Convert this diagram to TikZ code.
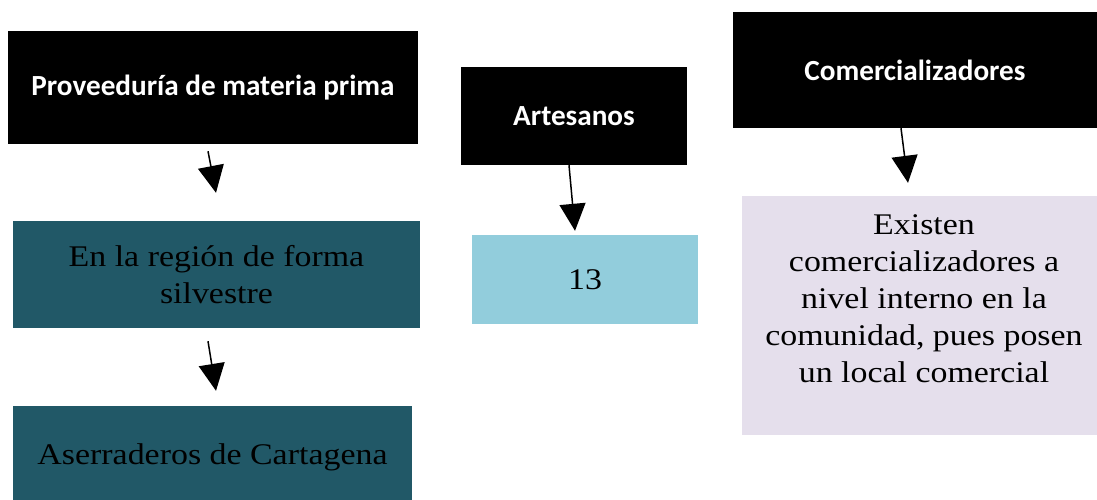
\documentclass[tikz,border=0pt]{standalone}
\usepackage{fontspec}
\usetikzlibrary{arrows.meta,calc}
\newfontfamily\boxsans{Carlito}
\newfontfamily\boxserif{Liberation Serif}[FakeStretch=1.13]
\definecolor{teal50}{HTML}{215867}
\definecolor{lightblue}{HTML}{92CDDC}
\definecolor{lavender}{HTML}{E5DFEC}
\tikzset{
  headbox/.style={fill=black, draw=none, text=white, inner sep=0pt,
    font=\boxsans\bfseries\fontsize{29.2}{34}\selectfont},
  bodybox/.style={draw=none, inner sep=0pt, text=black, align=center,
    font=\boxserif\fontsize{30}{36.5}\selectfont},
  bodytext/.style={inner sep=0pt, text=black, align=center,
    font=\boxserif\fontsize{30}{37}\selectfont},
  conn/.style={line width=1.5pt, -{Triangle[length=27pt,width=26pt]}}
}
\begin{document}
\begin{tikzpicture}[x=1pt,y=-1pt]
\useasboundingbox (0,0) rectangle (1097,499);
% left column
\node[headbox, minimum width=410pt, minimum height=113pt] (prov) at (213,87.5) {Proveeduría de materia prima};
\node[bodybox, fill=teal50, minimum width=407pt, minimum height=107pt] (reg) at (216.5,274.5) {En la región de forma\\silvestre};
\node[bodybox, fill=teal50, minimum width=399pt, minimum height=102pt] (aser) at (212.5,457) {Aserraderos de Cartagena};
% middle column
\node[headbox, minimum width=226pt, minimum height=98pt] (art) at (574,116) {Artesanos};
\node[bodybox, fill=lightblue, minimum width=226pt, minimum height=89pt] (num) at (585,279.5) {13};
% right column
\node[headbox, minimum width=364pt, minimum height=116pt] (com) at (915,70) {Comercializadores};
\node[fill=lavender, draw=none, inner sep=0pt, minimum width=355pt, minimum height=239pt] (lav) at (919.5,315.5) {};
\node[bodytext] (lavtext) at (924,299) {Existen\\comercializadores a\\nivel interno en la\\comunidad, pues posen\\un local comercial};
% connectors
\draw[conn] ($(prov.south)+(-5,7)$) -- ($(reg.north)+(-0.5,-28)$);
\draw[conn] ($(reg.south)+(-8.5,13)$) -- ($(aser.north)+(3.5,-15)$);
\draw[conn] ($(art.south)+(-5,0)$) -- ($(num.north)+(-10,-4)$);
\draw[conn] ($(com.south)+(-14,0)$) -- ($(lav.north)+(-11.5,-13)$);
\end{tikzpicture}
\end{document}
